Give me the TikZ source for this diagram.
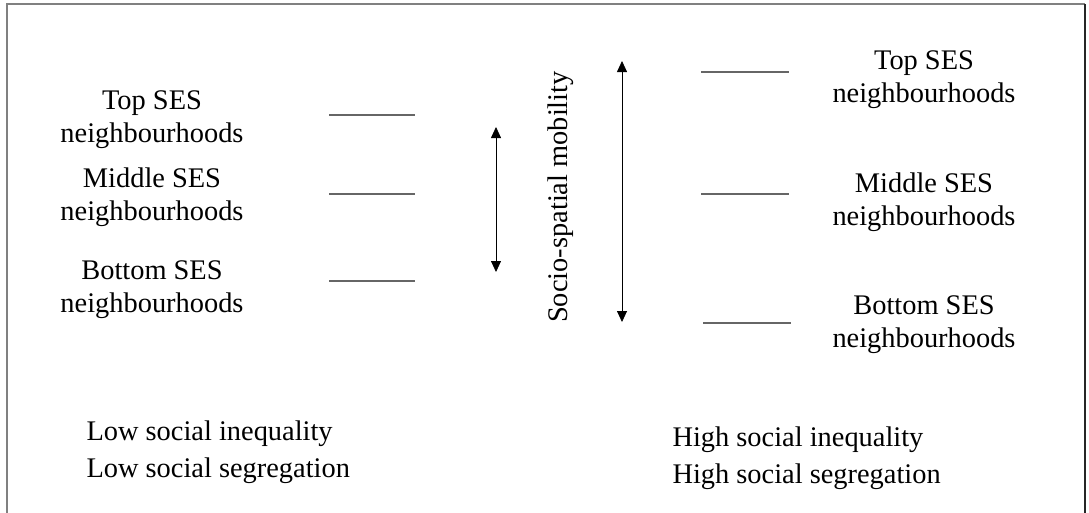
\documentclass[tikz,border=0pt]{standalone}
\usepackage{fontspec}
\setmainfont{Liberation Serif}
\usetikzlibrary{arrows.meta}

\tikzset{
  seslabel/.style={align=center,anchor=base,font=\fontsize{28.4}{33}\selectfont},
  summary/.style={align=left,anchor=base west,font=\fontsize{28.4}{37}\selectfont},
  level/.style={draw=black!60,line width=1.4pt},
  mobility/.style={<->,line width=0.8pt}
}

\begin{document}
\begin{tikzpicture}[x=1pt,y=-1pt,>={Triangle[length=11pt,width=10pt]}]
        \useasboundingbox (0,0) rectangle (1089,512);

        % the frame, open at the bottom
        \draw[black!50,line width=2pt] (7,514) -- (7,4) -- (1085,4);
        \draw[black!85,line width=2pt] (1085,4) -- (1085,514);

        % low inequality: neighbourhoods close together
        % (anchor base sits on the last line)
        \node[seslabel] (ltop) at (152,142) {Top SES\\neighbourhoods};
        \node[seslabel] (lmid) at (152,220) {Middle SES\\neighbourhoods};
        \node[seslabel] (lbot) at (152,312) {Bottom SES\\neighbourhoods};

        \foreach \y/\name in {115/ltick1,194/ltick2,281/ltick3}
                \draw[level] (329,\y) coordinate (\name) -- (415,\y);

        \coordinate (lup) at (496,127);
        \coordinate (ldown) at (496,272);
        \draw[mobility] (lup) -- (ldown);

        % the axis label in the middle
        \node[font=\fontsize{28.4}{33}\selectfont,rotate=90] (axis) at (561,197) {Socio-spatial mobility};

        % high inequality: neighbourhoods far apart
        \coordinate (rup) at (622,61);
        \coordinate (rdown) at (622,322);
        \draw[mobility] (rup) -- (rdown);

        \foreach \x/\y/\name in {701/72/rtick1,701/194/rtick2,703/323/rtick3}
                \draw[level] (\x,\y) coordinate (\name) -- ++(88,0);

        \node[seslabel] (rtop) at (924,102) {Top SES\\neighbourhoods};
        \node[seslabel] (rmid) at (924,225) {Middle SES\\neighbourhoods};
        \node[seslabel] (rbot) at (924,347) {Bottom SES\\neighbourhoods};

        % the two summaries
        \node[summary] (low) at (83,477) {Low social inequality\\Low social segregation};
        \node[summary] (high) at (669,483) {High social inequality\\High social segregation};
\end{tikzpicture}
\end{document}
